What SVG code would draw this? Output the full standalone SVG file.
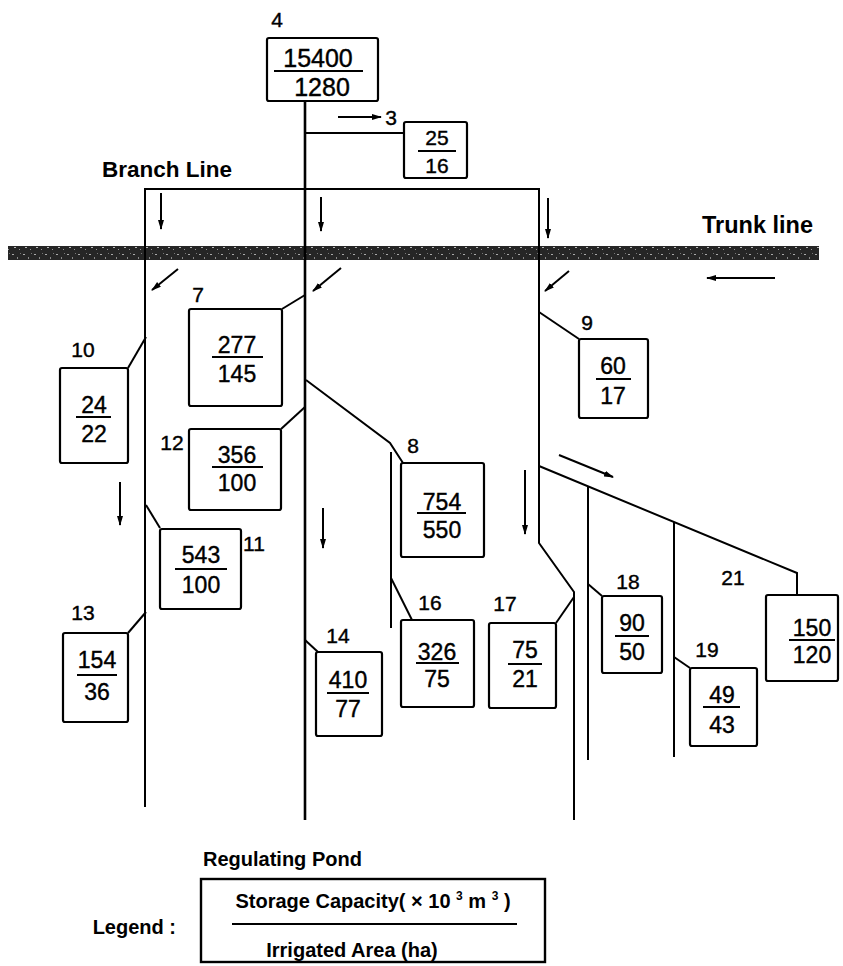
<svg xmlns="http://www.w3.org/2000/svg" width="843" height="966" viewBox="0 0 843 966">
<style>
.box{fill:#fff;stroke:#000;stroke-width:2.2}
.ln{fill:none;stroke:#000;stroke-width:2}
.main{fill:none;stroke:#000;stroke-width:2.6}
.fr{stroke:#000;stroke-width:1.8}
.arw{stroke:#000;stroke-width:2;marker-end:url(#ah)}
.num{font-family:"Liberation Sans",Arial,sans-serif;font-size:23px;text-anchor:middle;fill:#000;stroke:#000;stroke-width:0.4}
.lbl{font-family:"Liberation Sans",Arial,sans-serif;font-size:21px;text-anchor:middle;fill:#000;stroke:#000;stroke-width:0.4}
.tt{font-family:"Liberation Sans",Arial,sans-serif;font-weight:bold;font-size:21px;fill:#000}
</style>
<defs>
<marker id="ah" viewBox="0 0 10 6" refX="9" refY="3" markerWidth="10" markerHeight="6" markerUnits="userSpaceOnUse" orient="auto"><path d="M0,0 L10,3 L0,6 z" fill="#000"/></marker>
<pattern id="tex" width="11" height="14" patternUnits="userSpaceOnUse">
<rect width="11" height="14" fill="#262626"/>
<rect x="1" y="2" width="2" height="1" fill="#aaa"/>
<rect x="6" y="5" width="1" height="2" fill="#888"/>
<rect x="3" y="9" width="2" height="1" fill="#bbb"/>
<rect x="8" y="11" width="1" height="1" fill="#999"/>
<rect x="9" y="1" width="1" height="1" fill="#777"/>
</pattern>
</defs>
<rect width="843" height="966" fill="#fff"/>

<g id="trunk-line">
<rect x="8" y="246" width="811" height="14" fill="url(#tex)"/>
<text class="tt" x="702" y="233" style="font-size:23.5px">Trunk line</text>
</g>
<text class="tt" x="102" y="177" style="font-size:22.5px">Branch Line</text>

<g id="connectors">
<path class="main" d="M305,101 V820"/>
<path class="ln" d="M305,133 H404"/>
<path class="ln" d="M145,807 V189 H539 V543 L574,592 V820"/>
<path class="ln" d="M128,368 L146,337"/>
<path class="ln" d="M282,309 L305,295"/>
<path class="ln" d="M281,429 L305,407"/>
<path class="ln" d="M306,380 L390,443 L403,463"/>
<path class="ln" d="M391,452 V628"/>
<path class="ln" d="M391,578 L412,620"/>
<path class="ln" d="M146,505 L160,528"/>
<path class="ln" d="M128,633 L146,612"/>
<path class="ln" d="M305,640 L318,652"/>
<path class="ln" d="M539,312 L579,339"/>
<path class="ln" d="M539,466 L797,573 V595"/>
<path class="ln" d="M588,487 V760"/>
<path class="ln" d="M588,584 L602,596"/>
<path class="ln" d="M674,522 V757"/>
<path class="ln" d="M674,657 L690,668"/>
<path class="ln" d="M574,597 L556,623"/>
<line class="arw" x1="338" y1="117" x2="381" y2="117"/>
<line class="arw" x1="161" y1="193" x2="161" y2="229"/>
<line class="arw" x1="321" y1="197" x2="321" y2="231"/>
<line class="arw" x1="548" y1="198" x2="548" y2="238"/>
<line class="arw" x1="120" y1="482" x2="120" y2="525"/>
<line class="arw" x1="323" y1="508" x2="323" y2="548"/>
<line class="arw" x1="525" y1="470" x2="525" y2="534"/>
<line class="arw" x1="178" y1="269" x2="152" y2="290"/>
<line class="arw" x1="341" y1="268" x2="313" y2="291"/>
<line class="arw" x1="569" y1="271" x2="545" y2="291"/>
<line class="arw" x1="775" y1="278" x2="707" y2="278"/>
<line class="arw" x1="559" y1="455" x2="613" y2="477"/>
</g>

<g id="node-4">
<rect class="box" x="267" y="38" width="111" height="63" rx="2"/>
<text class="lbl" x="277" y="27">4</text>
<text class="num" x="318" y="67" style="font-size:25px">15400</text>
<line class="fr" x1="274" y1="71" x2="363" y2="71"/>
<text class="num" x="322" y="96" style="font-size:25px">1280</text>
</g>
<g id="node-3">
<rect class="box" x="404" y="122" width="63" height="56" rx="2"/>
<text class="lbl" x="391" y="125">3</text>
<text class="num" x="437" y="145" style="font-size:21px">25</text>
<line class="fr" x1="418" y1="151" x2="456" y2="151"/>
<text class="num" x="437" y="173" style="font-size:21px">16</text>
</g>
<g id="node-7">
<rect class="box" x="189" y="309" width="93" height="97" rx="2"/>
<text class="lbl" x="198" y="302">7</text>
<text class="num" x="237" y="353">277</text>
<line class="fr" x1="212" y1="357" x2="263" y2="357"/>
<text class="num" x="237" y="382">145</text>
</g>
<g id="node-10">
<rect class="box" x="60" y="368" width="68" height="95" rx="2"/>
<text class="lbl" x="83" y="357">10</text>
<text class="num" x="94" y="413">24</text>
<line class="fr" x1="76" y1="417" x2="111" y2="417"/>
<text class="num" x="94" y="442">22</text>
</g>
<g id="node-12">
<rect class="box" x="189" y="429" width="92" height="81" rx="2"/>
<text class="lbl" x="172" y="450">12</text>
<text class="num" x="237" y="463">356</text>
<line class="fr" x1="212" y1="467" x2="263" y2="467"/>
<text class="num" x="237" y="491">100</text>
</g>
<g id="node-8">
<rect class="box" x="401" y="463" width="83" height="94" rx="2"/>
<text class="lbl" x="413" y="453">8</text>
<text class="num" x="442" y="510">754</text>
<line class="fr" x1="417" y1="513" x2="466" y2="513"/>
<text class="num" x="442" y="538">550</text>
</g>
<g id="node-9">
<rect class="box" x="579" y="339" width="69" height="79" rx="2"/>
<text class="lbl" x="587" y="330">9</text>
<text class="num" x="613" y="374">60</text>
<line class="fr" x1="596" y1="379" x2="631" y2="379"/>
<text class="num" x="613" y="404">17</text>
</g>
<g id="node-11">
<rect class="box" x="160" y="529" width="81" height="80" rx="2"/>
<text class="lbl" x="254" y="551">11</text>
<text class="num" x="201" y="563">543</text>
<line class="fr" x1="175" y1="569" x2="227" y2="569"/>
<text class="num" x="201" y="593">100</text>
</g>
<g id="node-13">
<rect class="box" x="63" y="633" width="65" height="89" rx="2"/>
<text class="lbl" x="83" y="620">13</text>
<text class="num" x="97" y="668">154</text>
<line class="fr" x1="77" y1="675" x2="117" y2="675"/>
<text class="num" x="97" y="700">36</text>
</g>
<g id="node-14">
<rect class="box" x="316" y="652" width="66" height="84" rx="2"/>
<text class="lbl" x="338" y="643">14</text>
<text class="num" x="348" y="688">410</text>
<line class="fr" x1="327" y1="693" x2="369" y2="693"/>
<text class="num" x="348" y="717">77</text>
</g>
<g id="node-16">
<rect class="box" x="401" y="620" width="73" height="87" rx="2"/>
<text class="lbl" x="430" y="610">16</text>
<text class="num" x="437" y="660">326</text>
<line class="fr" x1="416" y1="663" x2="459" y2="663"/>
<text class="num" x="437" y="687">75</text>
</g>
<g id="node-17">
<rect class="box" x="489" y="623" width="67" height="85" rx="2"/>
<text class="lbl" x="505" y="611">17</text>
<text class="num" x="525" y="658">75</text>
<line class="fr" x1="508" y1="664" x2="542" y2="664"/>
<text class="num" x="525" y="687">21</text>
</g>
<g id="node-18">
<rect class="box" x="602" y="596" width="60" height="77" rx="2"/>
<text class="lbl" x="628" y="589">18</text>
<text class="num" x="632" y="631">90</text>
<line class="fr" x1="615" y1="636" x2="649" y2="636"/>
<text class="num" x="632" y="660">50</text>
</g>
<g id="node-19">
<rect class="box" x="690" y="668" width="67" height="78" rx="2"/>
<text class="lbl" x="707" y="657">19</text>
<text class="num" x="722" y="703">49</text>
<line class="fr" x1="703" y1="707" x2="740" y2="707"/>
<text class="num" x="722" y="733">43</text>
</g>
<g id="node-21">
<rect class="box" x="766" y="595" width="72" height="86" rx="2"/>
<text class="lbl" x="733" y="585">21</text>
<text class="num" x="812" y="636">150</text>
<line class="fr" x1="789" y1="640" x2="835" y2="640"/>
<text class="num" x="812" y="663">120</text>
</g>

<g id="legend">
<text class="tt" x="203" y="866" style="font-size:20px">Regulating Pond</text>
<text class="tt" x="176" y="934" text-anchor="end" style="font-size:20px">Legend :</text>
<rect x="201" y="879" width="344" height="83" fill="#fff" stroke="#000" stroke-width="2.4"/>
<text class="tt" x="373" y="908" text-anchor="middle" style="font-size:20px">Storage Capacity( × 10 <tspan font-size="12" dy="-8">3</tspan><tspan dy="8"> m </tspan><tspan font-size="12" dy="-8">3</tspan><tspan dy="8"> )</tspan></text>
<line x1="232" y1="924" x2="517" y2="924" stroke="#000" stroke-width="1.8"/>
<text class="tt" x="352" y="957" text-anchor="middle" style="font-size:20px">Irrigated Area (ha)</text>
</g>
</svg>
